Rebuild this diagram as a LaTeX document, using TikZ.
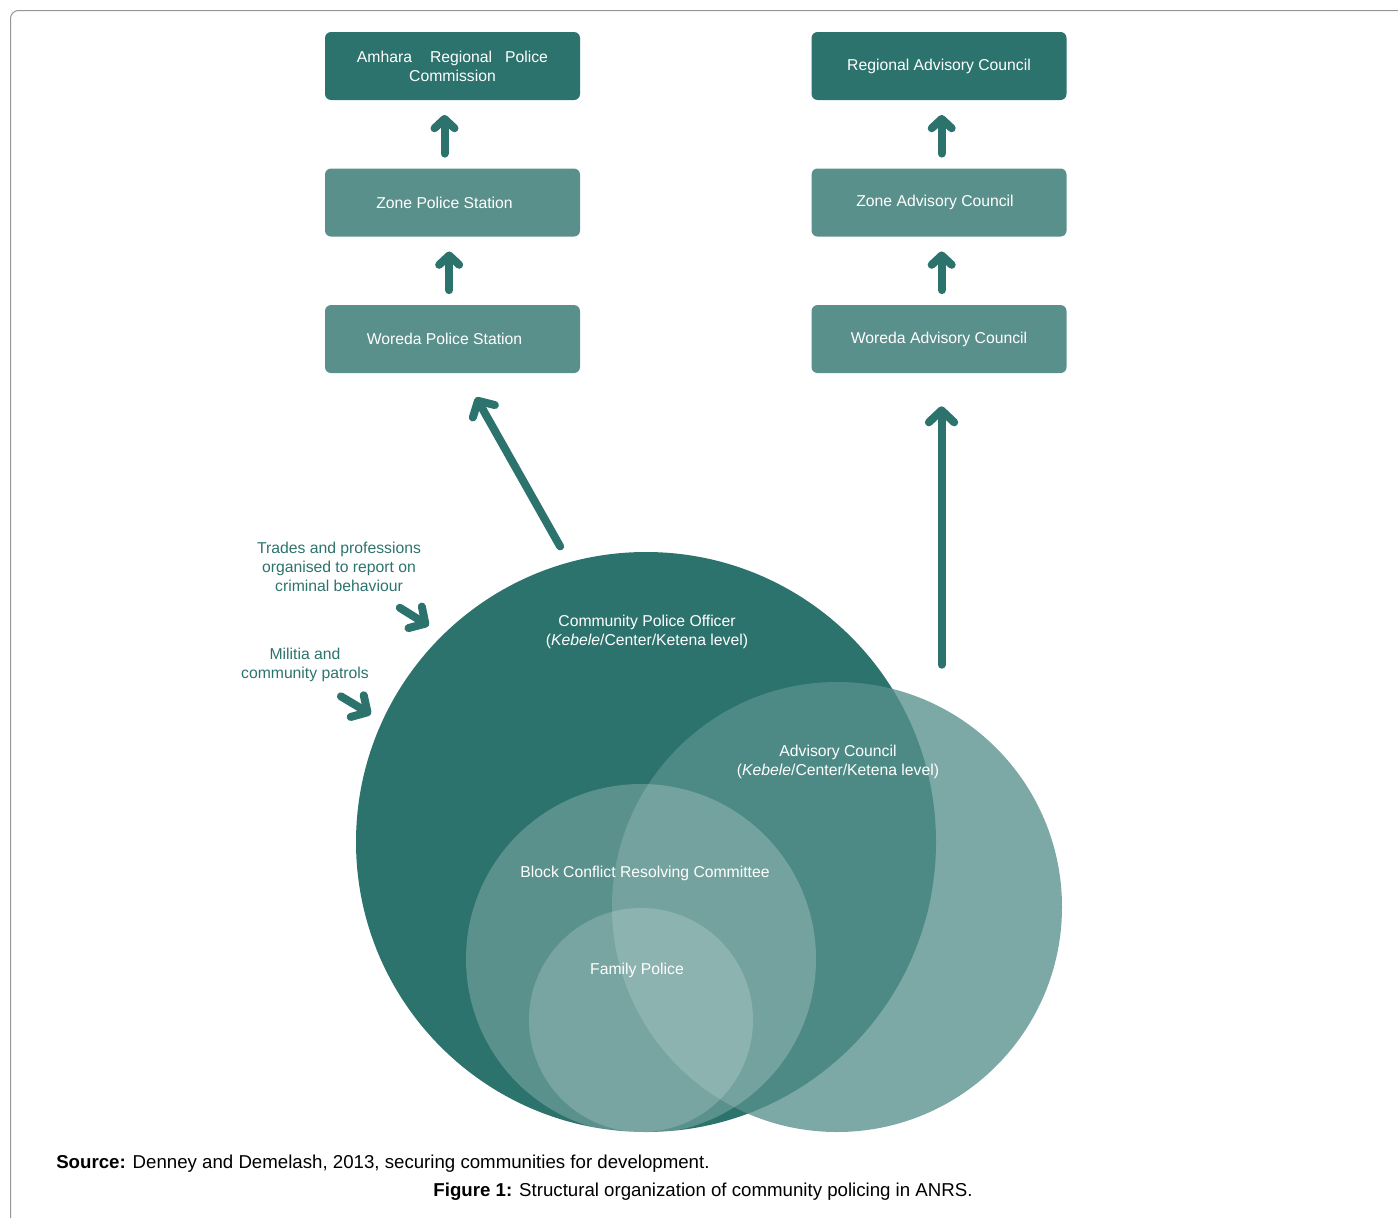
\documentclass[tikz,border=0pt]{standalone}
\usepackage{fontspec}
\setmainfont{Liberation Sans}
\usepackage{xcolor}
\usetikzlibrary{positioning, arrows.meta, calc}
\definecolor{darkteal}{RGB}{45,115,109}
\definecolor{midteal}{RGB}{90,144,139}
\definecolor{advteal}{RGB}{87,145,140}
\definecolor{framegray}{RGB}{150,150,150}

\begin{document}
\begin{tikzpicture}[x=0.75pt, y=-0.75pt, node distance=51pt,
	font=\fontsize{11.8}{14.25}\selectfont,
	topbox/.style={rectangle, rounded corners=4.5pt, fill=darkteal, text=white, minimum width=191.25pt, minimum height=51pt, align=center, inner sep=0pt},
	lowbox/.style={topbox, fill=midteal},
	uparrow/.style={draw=darkteal, line width=6pt, line cap=round, -{Straight Barb[round, length=7pt, width=15pt]}, shorten <=11pt, shorten >=11pt},
	bigarrow/.style={draw=darkteal, line width=6pt, line cap=round, -{Straight Barb[round, length=9pt, width=19pt]}},
	disc/.style={circle, inner sep=0pt},
	tag/.style={text=darkteal, align=center},
	intext/.style={text=white, align=center},
	captext/.style={font=\fontsize{14}{16.5}\selectfont, inner sep=0pt}]
	\useasboundingbox (0,0) rectangle (1398,1217);
	\draw[framegray, line width=0.75pt, rounded corners=6pt] (1402,10.5) -- (10.5,10.5) -- (10.5,1222);
	
	% police column
	\node[topbox] at (452.5,66) (arpc) {Amhara\hspace*{13.5pt}Regional\hspace*{9.75pt}Police\\Commission};
	\node[lowbox, below=of arpc] (zps) {Zone Police Station\hspace*{12pt}};
	\node[lowbox, below=of zps] (wps) {Woreda Police Station\hspace*{12pt}};
	
	% advisory column
	\node[topbox, right=173.25pt of arpc] (rac) {Regional Advisory Council};
	\node[lowbox, below=of rac] (zac) {Zone Advisory Council\hspace*{6pt}};
	\node[lowbox, below=of zac] (wac) {Woreda Advisory Council};
	
	% circles
	\node[disc, fill=darkteal, minimum size=435pt] at (646,842) (cpo) {};
	\node[disc, fill=advteal, fill opacity=0.78, minimum size=337.5pt] at (837,907) (adv) {};
	\node[disc, fill=white, fill opacity=0.22, minimum size=262.5pt] at (641,959) (bcrc) {};
	\node[disc, fill=white, fill opacity=0.18, minimum size=168pt] at (641,1020) (fam) {};
	
	\node[intext] at (647,631.5) (cpotext) {Community Police Officer\\(\textit{Kebele}/Center/Ketena level)};
	\node[intext] at (838,761.5) (advtext) {Advisory Council\\(\textit{Kebele}/Center/Ketena level)};
	\node[intext] at (645,873) (bcrctext) {Block Conflict Resolving Committee};
	\node[intext] at (637,970) (famtext) {Family Police};
	
	\node[tag] at (339,567) (trades) {Trades and professions\\organised to report on\\criminal behaviour};
	\node[tag] at (305,664.5) (militia) {Militia and\\community patrols};
	
	% arrows
	\draw ([xshift=-6pt]zps.north) edge[uparrow] ([xshift=-6pt]arpc.south);
	\draw ([xshift=-2.5pt]wps.north) edge[uparrow] ([xshift=-2.5pt]zps.south);
	\draw ([xshift=2pt]zac.north) edge[uparrow] ([xshift=2pt]rac.south);
	\draw ([xshift=2pt]wac.north) edge[uparrow] ([xshift=2pt]zac.south);
	
	\draw[bigarrow] ($(cpo.107)+(-1,-18)$) -- ($(wps.south)+(23.5,24)$);
	\draw[bigarrow] ($(wac.south |- adv.north)+(2.5,-17)$) -- ($(wac.south)+(2.5,33)$);
	\draw[bigarrow] ($(cpo.135)+(-41,-29)$) -- ($(cpo.135)+(-12,-11)$);
	\draw[bigarrow] ($(cpo.155)+(-42,-23)$) -- ($(cpo.155)+(-12,-5)$);
	
	% caption
	\node[captext, anchor=west] at (56,1164) (source) {\textbf{Source:} Denney and Demelash, 2013, securing communities for development.};
	\node[captext] at (703,1192) (figcap) {\textbf{Figure 1:} Structural organization of community policing in ANRS.};
\end{tikzpicture}
\end{document}
